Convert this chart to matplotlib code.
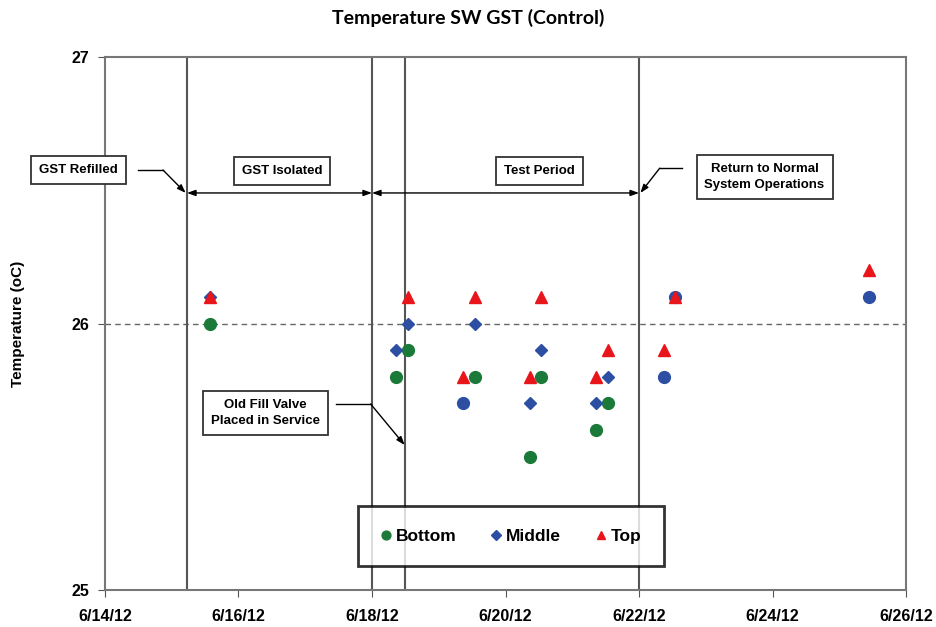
import matplotlib
matplotlib.use("Agg")
import matplotlib.pyplot as plt
import matplotlib.dates as mdates
import numpy as np

plt.rcParams['font.family'] = ['Liberation Sans', 'DejaVu Sans']

# sample times and readings (deg C)
bottom_t = ["2012-06-15 13:45", "2012-06-18 08:45", "2012-06-18 13:00", "2012-06-19 13:00",
            "2012-06-20 08:40", "2012-06-20 12:50", "2012-06-21 08:40", "2012-06-21 12:50"]
bottom_v = [26.0, 25.8, 25.9, 25.8, 25.5, 25.8, 25.6, 25.7]

middle_t = ["2012-06-15 13:45", "2012-06-18 08:45", "2012-06-18 13:00", "2012-06-19 13:00",
            "2012-06-20 08:40", "2012-06-20 12:50", "2012-06-21 08:40", "2012-06-21 12:50"]
middle_v = [26.1, 25.9, 26.0, 26.0, 25.7, 25.9, 25.7, 25.8]

# blue round markers (bottom & middle coincide)
both_t = ["2012-06-19 08:45", "2012-06-22 08:50", "2012-06-22 12:45", "2012-06-25 10:50"]
both_v = [25.7, 25.8, 26.1, 26.1]

top_t = ["2012-06-15 13:45", "2012-06-18 13:00", "2012-06-19 08:45", "2012-06-19 13:00",
         "2012-06-20 08:40", "2012-06-20 12:50", "2012-06-21 08:40", "2012-06-21 12:50",
         "2012-06-22 08:50", "2012-06-22 12:45", "2012-06-25 10:50"]
top_v = [26.1, 26.1, 25.8, 26.1, 25.8, 26.1, 25.8, 25.9, 25.9, 26.1, 26.2]

event_t = ["2012-06-15 05:30", "2012-06-18 00:00", "2012-06-18 11:45", "2012-06-22 00:00"]

x_ticks = ["2012-06-14", "2012-06-16", "2012-06-18", "2012-06-20",
           "2012-06-22", "2012-06-24", "2012-06-26"]
x_tick_labels = ["6/14/12", "6/16/12", "6/18/12", "6/20/12", "6/22/12", "6/24/12", "6/26/12"]
y_ticks = [25, 26, 27]


def dt(s):
    return np.array(s, dtype="datetime64[m]")


def dn(s):
    return mdates.date2num(np.datetime64(s))


green = '#1b7a3a'
blue = '#2c4fa3'
red = '#e8161b'

fig = plt.figure(figsize=(9.37, 6.27), dpi=100)
ax = fig.add_axes([0.112, 0.059, 0.855, 0.850])

t0 = dn("2012-06-14")
ax.set_xlim(t0, dn("2012-06-26"))
ax.set_ylim(25, 27)

ax.axhline(26, color='#666666', lw=1, dashes=(4, 3), zorder=1)
for t in event_t:
    ax.axvline(dn(t), color='#555555', lw=1.5, zorder=2)

ax.plot(dt(bottom_t), bottom_v, 'o', color=green, ms=8.5, label='Bottom', zorder=3)
ax.plot(dt(middle_t), middle_v, 'D', color=blue, ms=6.5, label='Middle', zorder=3)
ax.plot(dt(both_t), both_v, 'o', color=blue, ms=8.5, zorder=3)
ax.plot(dt(top_t), top_v, '^', color=red, ms=8.5, label='Top', zorder=4)

ax.set_xticks([dn(t) for t in x_ticks])
ax.set_xticklabels(x_tick_labels, fontsize=11.5, fontweight='bold')
ax.set_yticks(y_ticks)
ax.set_yticklabels([str(v) for v in y_ticks], fontsize=11.5, fontweight='bold')
ax.tick_params(axis='both', direction='out', length=5, color='#555555', pad=9)
ax.tick_params(axis='y', pad=6)
for sp in ax.spines.values():
    sp.set_color('#777777')
    sp.set_linewidth(1.5)

ax.set_ylabel("Temperature (oC)", fontsize=11, fontweight='bold', labelpad=34)
fig.suptitle("Temperature SW GST (Control)", fontsize=14, fontweight='bold',
             family='Lato', x=0.5, y=0.985)

box = dict(boxstyle='square,pad=0.6', fc='white', ec='#333333', lw=1.3)
tfont = dict(fontsize=9.5, fontweight='bold', ha='center', va='center', clip_on=False,
             zorder=6, linespacing=1.5)

arr_y = 26.49
ax.text(t0 - 0.40, 26.576, "GST Refilled", bbox=box, **tfont)
ax.text(t0 + 2.65, 26.572, "GST Isolated", bbox=box, **tfont)
ax.text(t0 + 6.51, 26.572, "Test Period", bbox=box, **tfont)
ax.text(t0 + 9.88, 26.55, "Return to Normal\nSystem Operations", bbox=box, **tfont)
ax.text(t0 + 2.40, 25.664, "Old Fill Valve\nPlaced in Service", bbox=box, **tfont)

# period arrows
head = dict(arrowstyle='<|-|>,head_length=0.5,head_width=0.18', color='black', lw=1,
            shrinkA=0, shrinkB=0)
ax.annotate("", xy=(dn(event_t[0]), arr_y), xytext=(dn(event_t[1]), arr_y), arrowprops=head)
ax.annotate("", xy=(dn(event_t[1]), arr_y), xytext=(dn(event_t[3]), arr_y), arrowprops=head)

# leader lines
lead = dict(arrowstyle='-|>,head_length=0.5,head_width=0.18', color='black', lw=1,
            shrinkA=0, shrinkB=0)
ax.plot([t0 + 0.49, t0 + 0.87], [26.576, 26.576], color='black', lw=1, clip_on=False)
ax.annotate("", xy=(dn(event_t[0]) - 0.02, arr_y), xytext=(t0 + 0.87, 26.576),
            arrowprops=lead, annotation_clip=False)
ax.plot([t0 + 8.65, t0 + 8.31], [26.583, 26.583], color='black', lw=1)
ax.annotate("", xy=(dn(event_t[3]) + 0.02, arr_y), xytext=(t0 + 8.31, 26.583),
            arrowprops=lead)
ax.plot([t0 + 3.46, t0 + 3.98], [25.698, 25.698], color='black', lw=1)
ax.annotate("", xy=(dn(event_t[2]), 25.544), xytext=(t0 + 3.98, 25.698), arrowprops=lead)

leg = ax.legend(loc='center', bbox_to_anchor=(0.507, 0.101), ncol=3, frameon=True,
                fancybox=False, edgecolor='black', handlelength=0.6, handletextpad=0.25,
                columnspacing=2.0, borderpad=1.3, markerscale=0.75,
                prop=dict(size=12.5, weight='bold'))
leg.get_frame().set_linewidth(2)
leg.set_zorder(7)

fig.savefig("out.png", dpi=100, facecolor='white')
